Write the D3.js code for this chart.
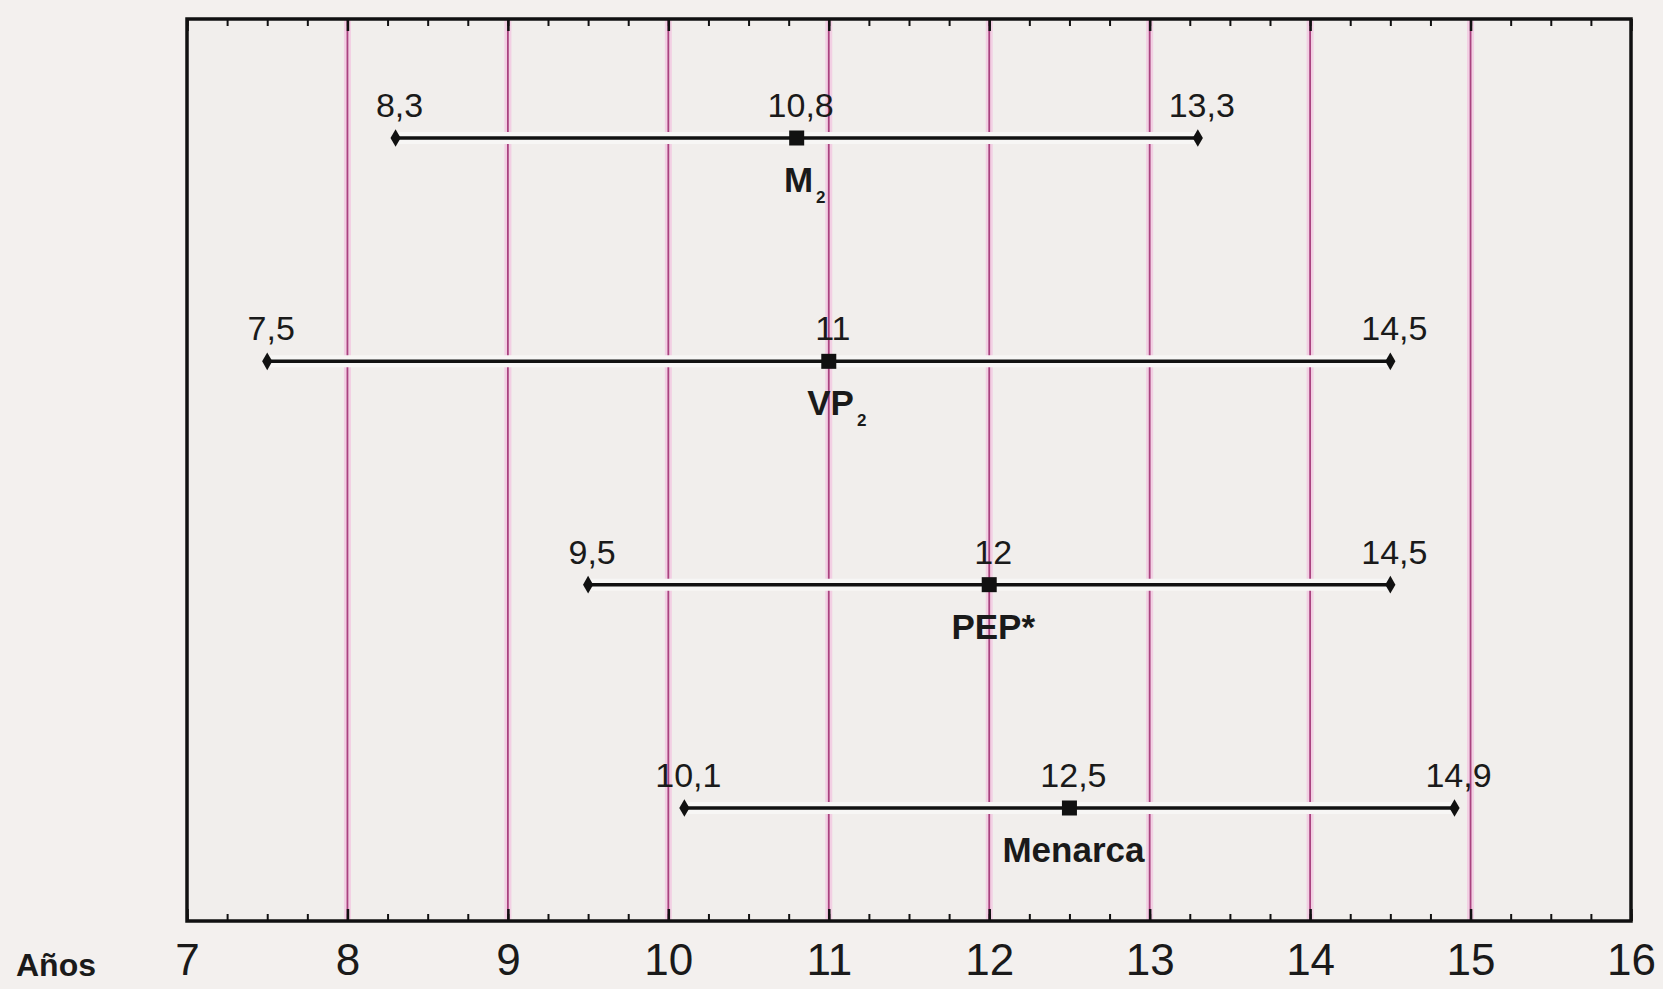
<!DOCTYPE html>
<html><head><meta charset="utf-8">
<script src="https://cdn.jsdelivr.net/npm/d3@7"></script>
<style>
html,body{margin:0;padding:0;background:#f3f0ee;}
svg{display:block;font-family:"Liberation Sans",Arial,sans-serif;}
</style></head>
<body>
<svg id="chart" width="1663" height="989"></svg>
<script>
const categories = ["M", "VP", "PEP*", "Menarca"];
const subscripts = ["2", "2", "", ""];
const lowValues = [8.3, 7.5, 9.5, 10.1];
const medianValues = [10.8, 11, 12, 12.5];
const highValues = [13.3, 14.5, 14.5, 14.9];
const xTicks = [7, 8, 9, 10, 11, 12, 13, 14, 15, 16];
const gridValues = [8, 9, 10, 11, 12, 13, 14, 15];
const axisTitle = "Años";

const svg = d3.select("#chart");
const L = 187, R = 1631, T = 19, B = 921;
const x = d3.scaleLinear().domain([7, 16]).range([L, R]);
const y = d3.scalePoint().domain(categories).range([138, 808]);
const fmt = v => String(v).replace(".", ",");

svg.append("rect").attr("x", L).attr("y", T).attr("width", R - L).attr("height", B - T).attr("fill", "#f1eeec");

// gridlines
const g = svg.append("g");
g.selectAll("line.halo").data(gridValues).join("line").attr("class","halo")
  .attr("x1", d => x(d)).attr("x2", d => x(d)).attr("y1", T).attr("y2", B)
  .attr("stroke", "#f2cfe3").attr("stroke-width", 7);
g.selectAll("line.grid").data(gridValues).join("line").attr("class","grid")
  .attr("x1", d => x(d)).attr("x2", d => x(d)).attr("y1", T).attr("y2", B)
  .attr("stroke", "#a9437f").attr("stroke-width", 1.8);

// minor ticks (inward) top & bottom
const minor = d3.range(7, 16.001, 0.25);
const axB = d3.axisBottom(x).tickValues(minor).tickSize(-7).tickFormat("");
const axT = d3.axisTop(x).tickValues(minor).tickSize(-7).tickFormat("");
const gb = svg.append("g").attr("transform", `translate(0,${B})`).call(axB);
const gt = svg.append("g").attr("transform", `translate(0,${T})`).call(axT);
[gb, gt].forEach(a => { a.select(".domain").remove(); a.selectAll("line").attr("stroke", "#111").attr("stroke-width", 2); });
const axB2 = d3.axisBottom(x).tickValues(xTicks).tickSize(-12).tickFormat("");
const axT2 = d3.axisTop(x).tickValues(xTicks).tickSize(-12).tickFormat("");
const gb2 = svg.append("g").attr("transform", `translate(0,${B})`).call(axB2);
const gt2 = svg.append("g").attr("transform", `translate(0,${T})`).call(axT2);
[gb2, gt2].forEach(a => { a.select(".domain").remove(); a.selectAll("line").attr("stroke", "#111").attr("stroke-width", 2.5); });

// frame
svg.append("rect").attr("x", L).attr("y", T).attr("width", R - L).attr("height", B - T)
  .attr("fill", "none").attr("stroke", "#111").attr("stroke-width", 3.5);

// tick labels
const axL = d3.axisBottom(x).tickValues(xTicks).tickSize(0).tickPadding(0).tickFormat(d => d);
const gl = svg.append("g").attr("transform", `translate(0,${B})`).call(axL);
gl.select(".domain").remove();
gl.selectAll("text").attr("y", 54).attr("dy", 0).attr("font-size", 44).attr("fill", "#1a1a1a")
  .attr("font-family", "'Liberation Sans',Arial,sans-serif");

svg.append("text").attr("x", 16).attr("y", 976).attr("font-size", 32).attr("font-weight", "bold")
  .attr("fill", "#1a1a1a").text(axisTitle);

// rows
const rows = categories.map((c, i) => ({c, sub: subscripts[i], lo: lowValues[i], med: medianValues[i], hi: highValues[i]}));
const rg = svg.append("g");
rows.forEach(d => {
  const yy = y(d.c);
  rg.append("line").attr("x1", x(d.lo)).attr("x2", x(d.hi)).attr("y1", yy).attr("y2", yy)
    .attr("stroke", "#f7f6f5").attr("stroke-width", 12);
  rg.append("line").attr("x1", x(d.lo)).attr("x2", x(d.hi)).attr("y1", yy).attr("y2", yy)
    .attr("stroke", "#111").attr("stroke-width", 3.5);
  [d.lo, d.hi].forEach(v => {
    rg.append("path").attr("d", d3.symbol(d3.symbolDiamond, 90)())
      .attr("transform", `translate(${x(v)},${yy})`).attr("fill", "#111");
  });
  rg.append("rect").attr("x", x(d.med) - 7.5).attr("y", yy - 7.5).attr("width", 15).attr("height", 15).attr("fill", "#111");
  [d.lo, d.med, d.hi].forEach(v => {
    rg.append("text").attr("x", x(v) + 4).attr("y", yy - 21).attr("text-anchor", "middle")
      .attr("font-size", 34).attr("fill", "#1a1a1a").text(fmt(v));
  });
  const t = rg.append("text").attr("x", x(d.med) + (d.sub ? 8 : 4)).attr("y", yy + 54).attr("text-anchor", "middle")
    .attr("font-size", 35).attr("font-weight", "bold").attr("fill", "#1a1a1a");
  t.append("tspan").text(d.c);
  if (d.sub) t.append("tspan").attr("dy", 11).attr("font-size", 17).attr("dx", 3).text(d.sub);
});
</script>
</body></html>
